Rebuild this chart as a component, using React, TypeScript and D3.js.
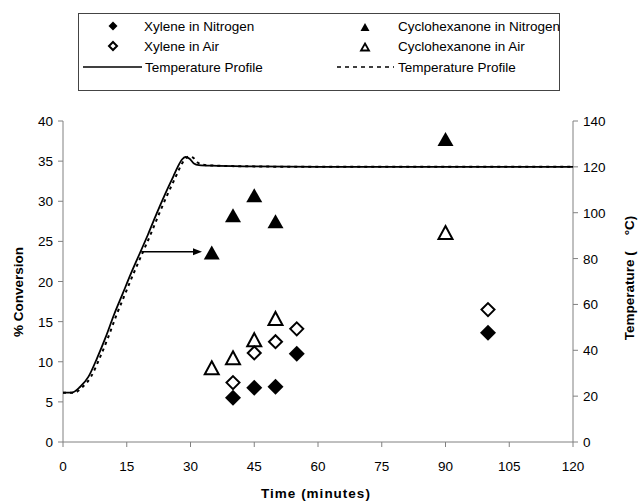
import React from "react";
import * as d3 from "d3";

// % conversion series (time in minutes)
const xyleneN2Time = [40, 45, 50, 55, 100];
const xyleneN2Conv = [5.5, 6.75, 6.9, 11.0, 13.6];
const xyleneAirTime = [40, 45, 50, 55, 100];
const xyleneAirConv = [7.4, 11.1, 12.5, 14.1, 16.5];
const cycloN2Time = [35, 40, 45, 50, 90];
const cycloN2Conv = [23.6, 28.25, 30.75, 27.5, 37.75];
const cycloAirTime = [35, 40, 45, 50, 90];
const cycloAirConv = [9.25, 10.5, 12.75, 15.4, 26.1];

// Temperature profiles (°C)
const tempSolidTime = [0, 2, 4, 6, 8, 10, 12, 14, 16, 18, 20, 22, 24, 26, 27, 28, 28.8, 29.8, 30.8, 32, 35, 45, 60, 120];
const tempSolid = [21.5, 21.5, 24, 28.5, 36.5, 45.5, 55.5, 64.5, 73.5, 82, 90.5, 99.5, 108, 116, 120, 123.2, 124.3, 123.5, 121.5, 120.8, 120.5, 120.2, 120, 120];
const tempDashTime = [0, 2.6, 4.6, 6.6, 8.6, 10.6, 12.6, 14.6, 16.6, 18.6, 20.6, 22.6, 24.6, 26.6, 27.6, 28.6, 29.6, 30.6, 31.6, 33, 36, 45, 60, 120];
const tempDash = [21.5, 21.5, 24, 28.5, 36.5, 45.5, 55.5, 64.5, 73.5, 82, 90.5, 99.5, 108, 116, 120, 123.2, 124.5, 124, 122, 120.9, 120.5, 120.2, 120, 120];

// Arrow linking the ramp to the first cyclohexanone point
const arrowFrom = [18.4, 23.7];
const arrowTo = [32.7, 23.7];

const xTicks = [0, 15, 30, 45, 60, 75, 90, 105, 120];
const yTicks = [0, 5, 10, 15, 20, 25, 30, 35, 40];
const y2Ticks = [0, 20, 40, 60, 80, 100, 120, 140];

const FONT = "'Liberation Sans', Arial, sans-serif";
const AXIS = "#808080";

function triPath(w: number, h: number) {
  return `M0,${-h / 2}L${w / 2},${h / 2}L${-w / 2},${h / 2}Z`;
}
function diaPath(r: number) {
  return `M0,${-r}L${r},0L0,${r}L${-r},0Z`;
}

export default function App() {
  const left = 63, right = 573, top = 121, bottom = 442;
  const x = d3.scaleLinear().domain([0, 120]).range([left, right]);
  const y = d3.scaleLinear().domain([0, 40]).range([bottom, top]);
  const y2 = d3.scaleLinear().domain([0, 140]).range([bottom, top]);

  const tempLine = d3
    .line<[number, number]>()
    .x((d) => x(d[0]))
    .y((d) => y2(d[1]))
    .curve(d3.curveMonotoneX);

  const solidPts = tempSolidTime.map((t, i) => [t, tempSolid[i]] as [number, number]);
  const dashPts = tempDashTime.map((t, i) => [t, tempDash[i]] as [number, number]);

  const ax0 = x(arrowFrom[0]), ay = y(arrowFrom[1]), ax1 = x(arrowTo[0]);

  return (
    <svg width={638} height={502} style={{ position: "absolute", left: 0, top: 0, background: "#fff" }} fontFamily={FONT}>
      <rect width={638} height={502} fill="#fff" />

      {/* Legend */}
      <g>
        <rect x={78.5} y={13.5} width={481} height={77} fill="none" stroke="#444" strokeWidth={1} />
        <path d={diaPath(4.5)} transform="translate(113,26)" fill="#000" />
        <text x={144} y={30.5} fontSize={13.5} fill="#000">Xylene in Nitrogen</text>
        <path d={diaPath(4)} transform="translate(113,46)" fill="#fff" stroke="#000" strokeWidth={2} />
        <text x={144} y={50.5} fontSize={13.5} fill="#000">Xylene in Air</text>
        <line x1={83} x2={142} y1={67} y2={67} stroke="#000" strokeWidth={1.6} />
        <text x={145} y={71.5} fontSize={13.5} fill="#000">Temperature Profile</text>

        <path d={triPath(9, 8)} transform="translate(365,27)" fill="#000" />
        <text x={398} y={30.5} fontSize={13.5} fill="#000">Cyclohexanone in Nitrogen</text>
        <path d={triPath(8, 7)} transform="translate(365,47)" fill="#fff" stroke="#000" strokeWidth={1.8} />
        <text x={398} y={50.5} fontSize={13.5} fill="#000">Cyclohexanone in Air</text>
        <line x1={337} x2={394} y1={67} y2={67} stroke="#000" strokeWidth={1.6} strokeDasharray="4,4" />
        <text x={398} y={71.5} fontSize={13.5} fill="#000">Temperature Profile</text>
      </g>

      {/* Axes */}
      <g stroke={AXIS} strokeWidth={1} fill="none">
        <line x1={left} x2={left} y1={top} y2={bottom} />
        <line x1={right} x2={right} y1={top} y2={bottom} />
        <line x1={left} x2={right} y1={bottom} y2={bottom} />
        {yTicks.map((v) => (
          <line key={"yl" + v} x1={left - 5} x2={left} y1={y(v)} y2={y(v)} />
        ))}
        {y2Ticks.map((v) => (
          <line key={"yr" + v} x1={right} x2={right + 5} y1={y2(v)} y2={y2(v)} />
        ))}
        {xTicks.map((v) => (
          <line key={"xt" + v} x1={x(v)} x2={x(v)} y1={bottom} y2={bottom + 5} />
        ))}
      </g>
      <g fontSize={13.5} fill="#000">
        {yTicks.map((v) => (
          <text key={"ylt" + v} x={left - 10} y={y(v) + 5} textAnchor="end">{v}</text>
        ))}
        {y2Ticks.map((v) => (
          <text key={"yrt" + v} x={right + 10} y={y2(v) + 5} textAnchor="start">{v}</text>
        ))}
        {xTicks.map((v) => (
          <text key={"xtt" + v} x={x(v)} y={bottom + 29} textAnchor="middle">{v}</text>
        ))}
      </g>

      {/* Axis titles */}
      <text x={316} y={498} fontSize={13.5} fontWeight="bold" textAnchor="middle" letterSpacing={1}>Time (minutes)</text>
      <text transform="translate(23,292) rotate(-90)" fontSize={13.5} fontWeight="bold" textAnchor="middle">% Conversion</text>
      <text transform="translate(634,278) rotate(-90)" fontSize={13.5} fontWeight="bold" textAnchor="middle">
        <tspan>Temperature (</tspan>
        <tspan dx={16}>°C)</tspan>
      </text>

      {/* Temperature profiles */}
      <path d={tempLine(dashPts) || ""} fill="none" stroke="#000" strokeWidth={2} strokeDasharray="3,4" />
      <path d={tempLine(solidPts) || ""} fill="none" stroke="#000" strokeWidth={1.8} />

      {/* Arrow */}
      <line x1={ax0} x2={ax1 - 8} y1={ay} y2={ay} stroke="#000" strokeWidth={1.6} />
      <path d={`M${ax1},${ay}L${ax1 - 9},${ay - 3.5}L${ax1 - 9},${ay + 3.5}Z`} fill="#000" />

      {/* Markers */}
      {cycloAirTime.map((t, i) => (
        <path key={"ca" + i} d={triPath(14, 13)} transform={`translate(${x(t)},${y(cycloAirConv[i])})`} fill="#fff" stroke="#000" strokeWidth={2} />
      ))}
      {xyleneAirTime.map((t, i) => (
        <path key={"xa" + i} d={diaPath(6.5)} transform={`translate(${x(t)},${y(xyleneAirConv[i])})`} fill="#fff" stroke="#000" strokeWidth={2} />
      ))}
      {cycloN2Time.map((t, i) => (
        <path key={"cn" + i} d={triPath(16, 14)} transform={`translate(${x(t)},${y(cycloN2Conv[i])})`} fill="#000" />
      ))}
      {xyleneN2Time.map((t, i) => (
        <path key={"xn" + i} d={diaPath(8)} transform={`translate(${x(t)},${y(xyleneN2Conv[i])})`} fill="#000" />
      ))}
    </svg>
  );
}
